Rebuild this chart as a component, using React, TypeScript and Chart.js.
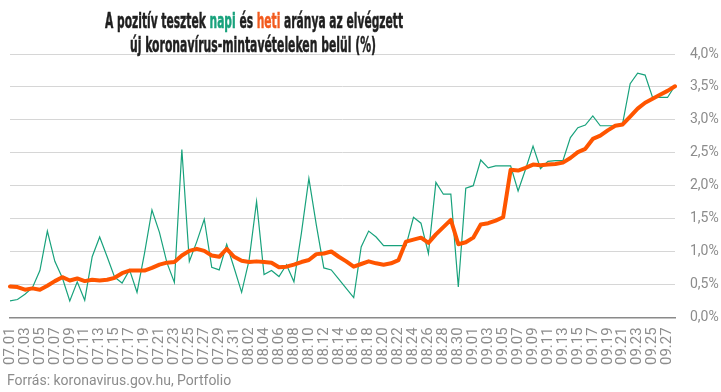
import React, { useEffect, useLayoutEffect, useRef } from 'react';
import { Chart, registerables } from 'chart.js';

Chart.register(...registerables);

const dates: string[] = [
  '07.01','07.02','07.03','07.04','07.05','07.06','07.07','07.08','07.09','07.10',
  '07.11','07.12','07.13','07.14','07.15','07.16','07.17','07.18','07.19','07.20',
  '07.21','07.22','07.23','07.24','07.25','07.26','07.27','07.28','07.29','07.30',
  '07.31','08.01','08.02','08.03','08.04','08.05','08.06','08.07','08.08','08.09',
  '08.10','08.11','08.12','08.13','08.14','08.15','08.16','08.17','08.18','08.19',
  '08.20','08.21','08.22','08.23','08.24','08.25','08.26','08.27','08.28','08.29',
  '08.30','08.31','09.01','09.02','09.03','09.04','09.05','09.06','09.07','09.08',
  '09.09','09.10','09.11','09.12','09.13','09.14','09.15','09.16','09.17','09.18',
  '09.19','09.20','09.21','09.22','09.23','09.24','09.25','09.26','09.27','09.28',
];

// napi (daily) positive rate, %
const napi: number[] = [
  0.25, 0.27, 0.35, 0.45, 0.71, 1.31, 0.85, 0.60, 0.25, 0.54,
  0.26, 0.92, 1.22, 0.92, 0.61, 0.52, 0.72, 0.38, 0.97, 1.63,
  1.29, 0.83, 0.53, 2.55, 0.85, 1.15, 1.49, 0.76, 0.72, 1.11,
  0.75, 0.38, 0.87, 1.76, 0.65, 0.71, 0.62, 0.80, 0.54, 1.28,
  2.11, 1.40, 0.75, 0.72, 0.58, 0.44, 0.30, 1.07, 1.31, 1.22,
  1.09, 1.09, 1.09, 1.09, 1.52, 1.43, 0.97, 2.05, 1.87, 1.87,
  0.46, 1.96, 2.00, 2.39, 2.27, 2.30, 2.30, 2.30, 1.92, 2.25,
  2.60, 2.26, 2.37, 2.38, 2.38, 2.73, 2.88, 2.92, 3.06, 2.91,
  2.91, 2.91, 2.95, 3.55, 3.71, 3.68, 3.34, 3.34, 3.34, 3.52,
];

// heti (weekly) positive rate, %
const heti: number[] = [
  0.47, 0.46, 0.42, 0.44, 0.42, 0.48, 0.55, 0.61, 0.56, 0.59,
  0.55, 0.57, 0.56, 0.57, 0.60, 0.67, 0.71, 0.71, 0.71, 0.75,
  0.80, 0.83, 0.84, 0.94, 1.01, 1.04, 1.01, 0.94, 0.92, 1.04,
  0.92, 0.86, 0.84, 0.85, 0.84, 0.83, 0.76, 0.77, 0.80, 0.84,
  0.87, 0.96, 0.97, 1.00, 0.92, 0.85, 0.77, 0.81, 0.85, 0.82,
  0.80, 0.82, 0.87, 1.15, 1.18, 1.21, 1.13, 1.26, 1.37, 1.48,
  1.11, 1.14, 1.21, 1.41, 1.43, 1.47, 1.52, 2.24, 2.23, 2.27,
  2.32, 2.31, 2.32, 2.33, 2.35, 2.42, 2.51, 2.56, 2.71, 2.76,
  2.84, 2.91, 2.93, 3.05, 3.17, 3.26, 3.32, 3.38, 3.44, 3.51,
];

const yTicks: number[] = [0, 0.5, 1, 1.5, 2, 2.5, 3, 3.5, 4];

const GREEN = '#18a27c';
const ORANGE = '#ff5500';
const GREY = '#8c8c8c';
const FONT = "Roboto, 'Noto Sans', sans-serif";
const TITLE_FONT = "'Liberation Sans Narrow', 'DejaVu Sans Condensed', Roboto, sans-serif";

function FitLine(props: { left: number; top: number; width: number; children: React.ReactNode }) {
  const ref = useRef<HTMLDivElement | null>(null);
  useLayoutEffect(() => {
    const el = ref.current;
    if (!el) return;
    el.style.transform = 'none';
    const w = el.getBoundingClientRect().width;
    if (w > 0) el.style.transform = `scaleX(${props.width / w})`;
  });
  return (
    <div
      ref={ref}
      style={{
        position: 'absolute',
        left: props.left,
        top: props.top,
        whiteSpace: 'nowrap',
        fontFamily: TITLE_FONT,
        fontWeight: 700,
        fontSize: 21,
        lineHeight: '21px',
        color: '#1f1f1f',
        transformOrigin: '0 0',
        WebkitTextStroke: '0.5px currentColor',
      }}
    >
      {props.children}
    </div>
  );
}

export default function App() {
  const canvasRef = useRef<HTMLCanvasElement | null>(null);

  useEffect(() => {
    const canvas = canvasRef.current;
    if (!canvas) return;
    const chart = new Chart(canvas, {
      type: 'line',
      data: {
        labels: dates,
        datasets: [
          {
            label: 'heti',
            data: heti,
            borderColor: ORANGE,
            backgroundColor: ORANGE,
            borderWidth: 4,
            pointRadius: 0,
            tension: 0,
            order: 1,
            borderJoinStyle: 'round',
            borderCapStyle: 'round',
          },
          {
            label: 'napi',
            data: napi,
            borderColor: GREEN,
            backgroundColor: GREEN,
            borderWidth: 1.2,
            pointRadius: 0,
            tension: 0,
            order: 2,
          },
        ],
      },
      options: {
        responsive: false,
        animation: false,
        devicePixelRatio: 1,
        layout: { padding: { top: 54, right: 0, bottom: 17, left: 0 } },
        plugins: {
          legend: { display: false },
          title: { display: false },
          tooltip: { enabled: false },
        },
        scales: {
          x: {
            grid: { display: false, drawTicks: false },
            border: { display: true, color: '#8a8a8a', width: 1.5 },
            ticks: {
              autoSkip: false,
              maxRotation: 90,
              minRotation: 90,
              padding: 10,
              color: GREY,
              font: { family: FONT, size: 15 },
              callback: (_v: any, i: number) => (i % 2 === 0 ? dates[i] : ''),
            },
          },
          y: {
            position: 'right',
            min: 0,
            max: 4,
            afterBuildTicks: (axis: any) => {
              axis.ticks = yTicks.map((v) => ({ value: v }));
            },
            afterFit: (axis: any) => {
              axis.width = 46;
            },
            grid: { color: '#d6d6d6', drawTicks: false, lineWidth: 1 },
            border: { display: false },
            ticks: {
              padding: 15,
              color: GREY,
              font: { family: FONT, size: 14 },
              callback: (v: any) => Number(v).toFixed(1).replace('.', ',') + '%',
            },
          },
        },
      },
    });
    return () => chart.destroy();
  }, []);

  return (
    <div style={{ position: 'absolute', left: 0, top: 0, width: 721, height: 392, background: '#fff', overflow: 'hidden' }}>
      <canvas ref={canvasRef} width={721} height={392} style={{ position: 'absolute', left: 0, top: 0, width: 721, height: 392 }} />
      <FitLine left={105} top={11} width={298}>
        A pozitív tesztek <span style={{ color: GREEN }}>napi</span> és{' '}
        <span style={{ color: '#f25a1d' }}>heti</span> aránya az elvégzett
      </FitLine>
      <FitLine left={130} top={35} width={246}>
        új koronavírus-mintavételeken belül (%)
      </FitLine>
      <div
        style={{
          position: 'absolute',
          left: 7,
          top: 372,
          fontFamily: FONT,
          fontSize: 14,
          lineHeight: '16px',
          color: GREY,
          whiteSpace: 'nowrap',
        }}
      >
        Forrás: koronavirus.gov.hu, Portfolio
      </div>
    </div>
  );
}
